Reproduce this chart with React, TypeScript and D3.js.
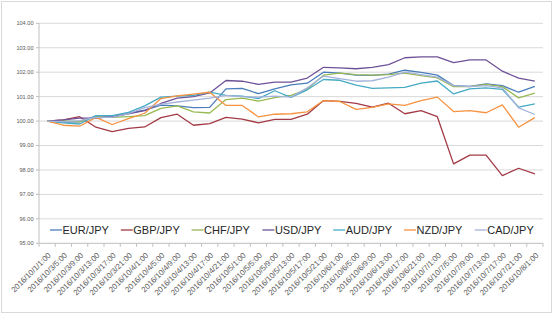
import React from 'react';
import * as d3 from 'd3';

const categories = [
  '2016/10/1/1:00', '2016/10/3/5:00', '2016/10/3/9:00', '2016/10/3/13:00', '2016/10/3/17:00',
  '2016/10/3/21:00', '2016/10/4/1:00', '2016/10/4/5:00', '2016/10/4/9:00', '2016/10/4/13:00',
  '2016/10/4/17:00', '2016/10/4/21:00', '2016/10/5/1:00', '2016/10/5/5:00', '2016/10/5/9:00',
  '2016/10/5/13:00', '2016/10/5/17:00', '2016/10/5/21:00', '2016/10/6/1:00', '2016/10/6/5:00',
  '2016/10/6/9:00', '2016/10/6/13:00', '2016/10/6/17:00', '2016/10/6/21:00', '2016/10/7/1:00',
  '2016/10/7/5:00', '2016/10/7/9:00', '2016/10/7/13:00', '2016/10/7/17:00', '2016/10/7/21:00',
  '2016/10/8/1:00',
];

const eurJpy = [100, 99.96, 99.97, 100.2, 100.16, 100.32, 100.45, 100.65, 100.62, 100.55, 100.56, 101.32, 101.34, 101.12, 101.32, 101.48, 101.55, 102.0, 101.96, 101.88, 101.87, 101.92, 102.08, 101.99, 101.88, 101.45, 101.42, 101.52, 101.45, 101.18, 101.42];
const gbpJpy = [100, 100.05, 100.18, 99.75, 99.57, 99.7, 99.76, 100.14, 100.28, 99.83, 99.9, 100.15, 100.08, 99.93, 100.07, 100.07, 100.28, 100.84, 100.81, 100.72, 100.57, 100.73, 100.3, 100.43, 100.18, 98.25, 98.61, 98.61, 97.77, 98.07, 97.84];
const chfJpy = [100, 100.02, 99.97, 100.18, 100.15, 100.18, 100.22, 100.52, 100.62, 100.38, 100.33, 100.88, 100.94, 100.82, 100.96, 101.05, 101.3, 101.88, 101.96, 101.9, 101.88, 101.9, 101.96, 101.86, 101.77, 101.41, 101.41, 101.5, 101.41, 100.95, 101.14];
const usdJpy = [100, 100.05, 100.12, 100.12, 100.18, 100.3, 100.43, 100.72, 100.94, 101.0, 101.15, 101.66, 101.63, 101.5, 101.59, 101.59, 101.76, 102.2, 102.18, 102.14, 102.2, 102.31, 102.59, 102.63, 102.63, 102.39, 102.5, 102.5, 102.04, 101.76, 101.63];
const audJpy = [100, 99.93, 99.88, 100.22, 100.22, 100.36, 100.62, 100.98, 101.02, 101.05, 101.18, 101.05, 101.02, 100.92, 101.24, 100.97, 101.28, 101.7, 101.67, 101.47, 101.34, 101.36, 101.38, 101.55, 101.64, 101.11, 101.32, 101.36, 101.3, 100.57, 100.7];
const nzdJpy = [100, 99.83, 99.79, 100.15, 99.86, 100.1, 100.32, 100.92, 101.03, 101.1, 101.18, 100.64, 100.64, 100.17, 100.28, 100.3, 100.38, 100.84, 100.8, 100.48, 100.56, 100.7, 100.64, 100.84, 100.98, 100.39, 100.43, 100.34, 100.66, 99.75, 100.14];
const cadJpy = [100, 99.98, 100.02, 100.15, 100.15, 100.3, 100.55, 100.68, 100.78, 100.86, 100.94, 101.05, 101.0, 100.98, 101.02, 100.98, 101.36, 101.84, 101.74, 101.63, 101.65, 101.8, 102.0, 101.9, 101.8, 101.45, 101.41, 101.45, 101.36, 100.54, 100.27];

const seriesNames = ['EUR/JPY', 'GBP/JPY', 'CHF/JPY', 'USD/JPY', 'AUD/JPY', 'NZD/JPY', 'CAD/JPY'];
const seriesValues = [eurJpy, gbpJpy, chfJpy, usdJpy, audJpy, nzdJpy, cadJpy];
const seriesColors = ['#4A7EBB', '#A33A45', '#98B954', '#6E5298', '#46AAC5', '#F69240', '#A3B3D9'];
const yTicks = [95, 96, 97, 98, 99, 100, 101, 102, 103, 104];

export default function App() {
  const W = 554, H = 315;
  const left = 39, right = 543, top = 23.3, bottom = 243.3;
  const x = d3.scalePoint<string>().domain(categories).range([left, right]).padding(0.5);
  const band = d3.scaleBand<string>().domain(categories).range([left, right]);
  const y = d3.scaleLinear().domain([95, 104]).range([bottom, top]);
  const line = d3.line<number>().x((_, i) => x(categories[i]) as number).y(d => y(d));
  const font = '"Liberation Sans", Arial, sans-serif';
  const tickPositions = categories.map(c => band(c) as number).concat([right]);

  return (
    <svg width={W} height={H} style={{ position: 'absolute', left: 0, top: 0, background: '#fff' }}>
      <rect x={1.5} y={1.5} width={550} height={311} fill="#fff" stroke="#D9D9D9" strokeWidth={1} />
      {yTicks.map(t => (
        <g key={t}>
          {t > 95 && <line x1={left} x2={right} y1={y(t)} y2={y(t)} stroke="#D9D9D9" strokeWidth={1} />}
          <line x1={left - 3} x2={left} y1={y(t)} y2={y(t)} stroke="#BFBFBF" strokeWidth={1} />
          <text x={33.5} y={y(t)} dy="0.35em" textAnchor="end" fontFamily={font} fontSize={5.6} fill="#595959">
            {t.toFixed(2)}
          </text>
        </g>
      ))}
      <line x1={left} x2={left} y1={top} y2={bottom} stroke="#BFBFBF" strokeWidth={1} />
      <line x1={left} x2={right} y1={bottom} y2={bottom} stroke="#BFBFBF" strokeWidth={1} />
      {tickPositions.map((p, i) => (
        <line key={i} x1={p} x2={p} y1={bottom} y2={bottom + 3.5} stroke="#BFBFBF" strokeWidth={1} />
      ))}
      {categories.map(c => (
        <text key={c} transform={`translate(${(x(c) as number) + 2.5},${bottom + 11}) rotate(-45)`} textAnchor="end"
          fontFamily={font} fontSize={7.8} fill="#595959" dy="0.3em">
          {c}
        </text>
      ))}
      {seriesValues.map((vals, si) => (
        <path key={si} d={line(vals) as string} fill="none" stroke={seriesColors[si]} strokeWidth={1.3}
          strokeLinejoin="round" />
      ))}
      {seriesNames.map((n, i) => {
        const lx = 50 + i * 70.8;
        return (
          <g key={n}>
            <line x1={lx} x2={lx + 12} y1={230} y2={230} stroke={seriesColors[i]} strokeWidth={1.3} />
            <text x={lx + 12.5} y={230} dy="0.36em" fontFamily={font} fontSize={11} fill="#262626">{n}</text>
          </g>
        );
      })}
    </svg>
  );
}
